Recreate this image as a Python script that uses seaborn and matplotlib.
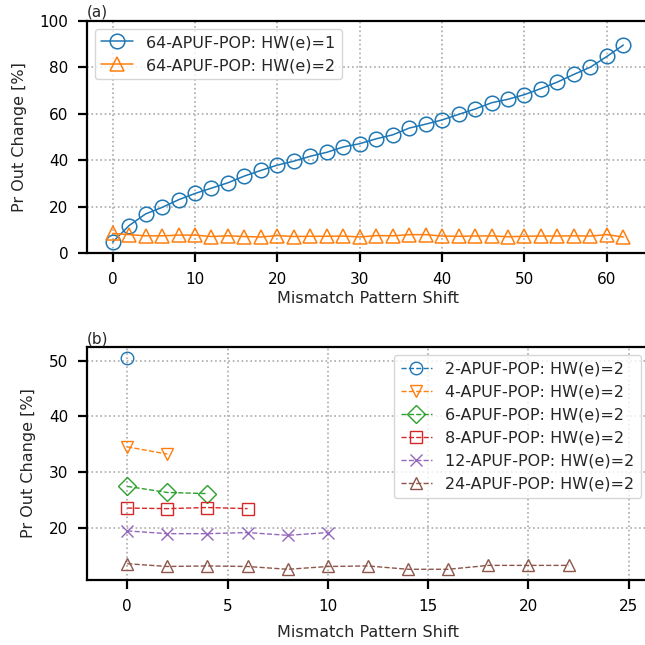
import matplotlib
matplotlib.use("Agg")
import matplotlib.pyplot as plt
import seaborn as sns
import pandas as pd

# (a) 64-APUF-POP, shifts 0..62 step 2
shift_a = list(range(0, 64, 2))
hw1_64 = [4.8, 11.9, 16.9, 19.7, 23.0, 25.7, 28.0, 30.3, 33.2, 35.6, 37.9, 39.6,
          41.7, 43.4, 45.7, 47.1, 49.2, 50.9, 53.8, 55.5, 57.3, 59.7, 62.0, 64.7,
          66.2, 68.2, 70.8, 73.6, 76.9, 80.0, 84.6, 89.5]
hw2_64 = [8.5, 8.0, 7.5, 7.5, 7.8, 7.8, 7.2, 7.5, 7.2, 7.0, 7.6, 7.2,
          7.3, 7.3, 7.4, 7.0, 7.6, 7.5, 8.0, 8.0, 7.4, 7.3, 7.4, 7.5,
          7.1, 7.3, 7.4, 7.4, 7.5, 7.4, 8.0, 7.0]

# (b) k-APUF-POP with HW(e)=2
pop2 = [50.5]
pop4 = [34.5, 33.2]
pop6 = [27.4, 26.3, 26.1]
pop8 = [23.5, 23.4, 23.6, 23.4]
pop12 = [19.4, 18.9, 18.9, 19.1, 18.6, 19.1]
pop24 = [13.5, 13.0, 13.1, 13.0, 12.5, 13.0, 13.1, 12.5, 12.5, 13.2, 13.2, 13.2]
labels_b = ["2-APUF-POP: HW(e)=2", "4-APUF-POP: HW(e)=2", "6-APUF-POP: HW(e)=2",
            "8-APUF-POP: HW(e)=2", "12-APUF-POP: HW(e)=2", "24-APUF-POP: HW(e)=2"]
markers_b = ["o", "v", "D", "s", "x", "^"]

sns.set_style("ticks", {"axes.grid": True, "grid.linestyle": ":", "grid.color": "#aaaaaa"})
plt.rcParams.update({
    "font.family": ["DejaVu Sans"],
    "font.size": 11,
    "axes.labelsize": 11.5,
    "axes.edgecolor": "black",
    "axes.linewidth": 1.6,
    "xtick.color": "black",
    "ytick.color": "black",
    "xtick.major.width": 1.6,
    "ytick.major.width": 1.6,
    "xtick.major.size": 6.5,
    "ytick.major.size": 6.5,
    "xtick.major.pad": 7,
    "ytick.major.pad": 7,
    "xtick.labelsize": 11,
    "ytick.labelsize": 11,
    "grid.linewidth": 1.2,
    "legend.fontsize": 11.5,
})

fig, (ax1, ax2) = plt.subplots(2, 1, figsize=(6.45, 6.45), dpi=100)
fig.subplots_adjust(left=0.135, right=1.006, top=0.968, bottom=0.101, hspace=0.404)

# Top panel
df_a = pd.DataFrame({"shift": shift_a, "hw1": hw1_64, "hw2": hw2_64})
sns.lineplot(data=df_a, x="shift", y="hw1", ax=ax1, color="C0", marker="o", markersize=10.5,
             markerfacecolor="none", markeredgecolor="C0", markeredgewidth=1.1, linewidth=1.1,
             label="64-APUF-POP: HW(e)=1")
sns.lineplot(data=df_a, x="shift", y="hw2", ax=ax1, color="C1", marker="^", markersize=10.5,
             markerfacecolor="none", markeredgecolor="C1", markeredgewidth=1.1, linewidth=1.1,
             label="64-APUF-POP: HW(e)=2")
ax1.set_ylim(0, 100)
ax1.set_xlim(-3.1, 65.1)
ax1.set_xlabel("Mismatch Pattern Shift", labelpad=3)
ax1.set_ylabel("Pr Out Change [%]", labelpad=9)
ax1.set_title("(a)", loc="left", fontsize=11, pad=3)
ax1.legend(loc="upper left")

# Bottom panel
series_b = [pop2, pop4, pop6, pop8, pop12, pop24]
for i, (vals, lab, mk) in enumerate(zip(series_b, labels_b, markers_b)):
    d = pd.DataFrame({"shift": list(range(0, 2 * len(vals), 2)), "val": vals})
    col = "C%d" % i
    sns.lineplot(data=d, x="shift", y="val", ax=ax2, color=col, marker=mk, markersize=9,
                 markerfacecolor="none", markeredgecolor=col, markeredgewidth=1.0,
                 linestyle="--", linewidth=1.0, label=lab)
ax2.set_xlim(-2, 26)
ax2.set_xticks([0, 5, 10, 15, 20, 25])
ax2.set_yticks([20, 30, 40, 50])
ax2.set_xlabel("Mismatch Pattern Shift", labelpad=8)
ax2.set_ylabel("Pr Out Change [%]", labelpad=9)
ax2.set_title("(b)", loc="left", fontsize=11, pad=3)
ax2.legend(loc="upper right")

fig.savefig("out.png", dpi=100)
